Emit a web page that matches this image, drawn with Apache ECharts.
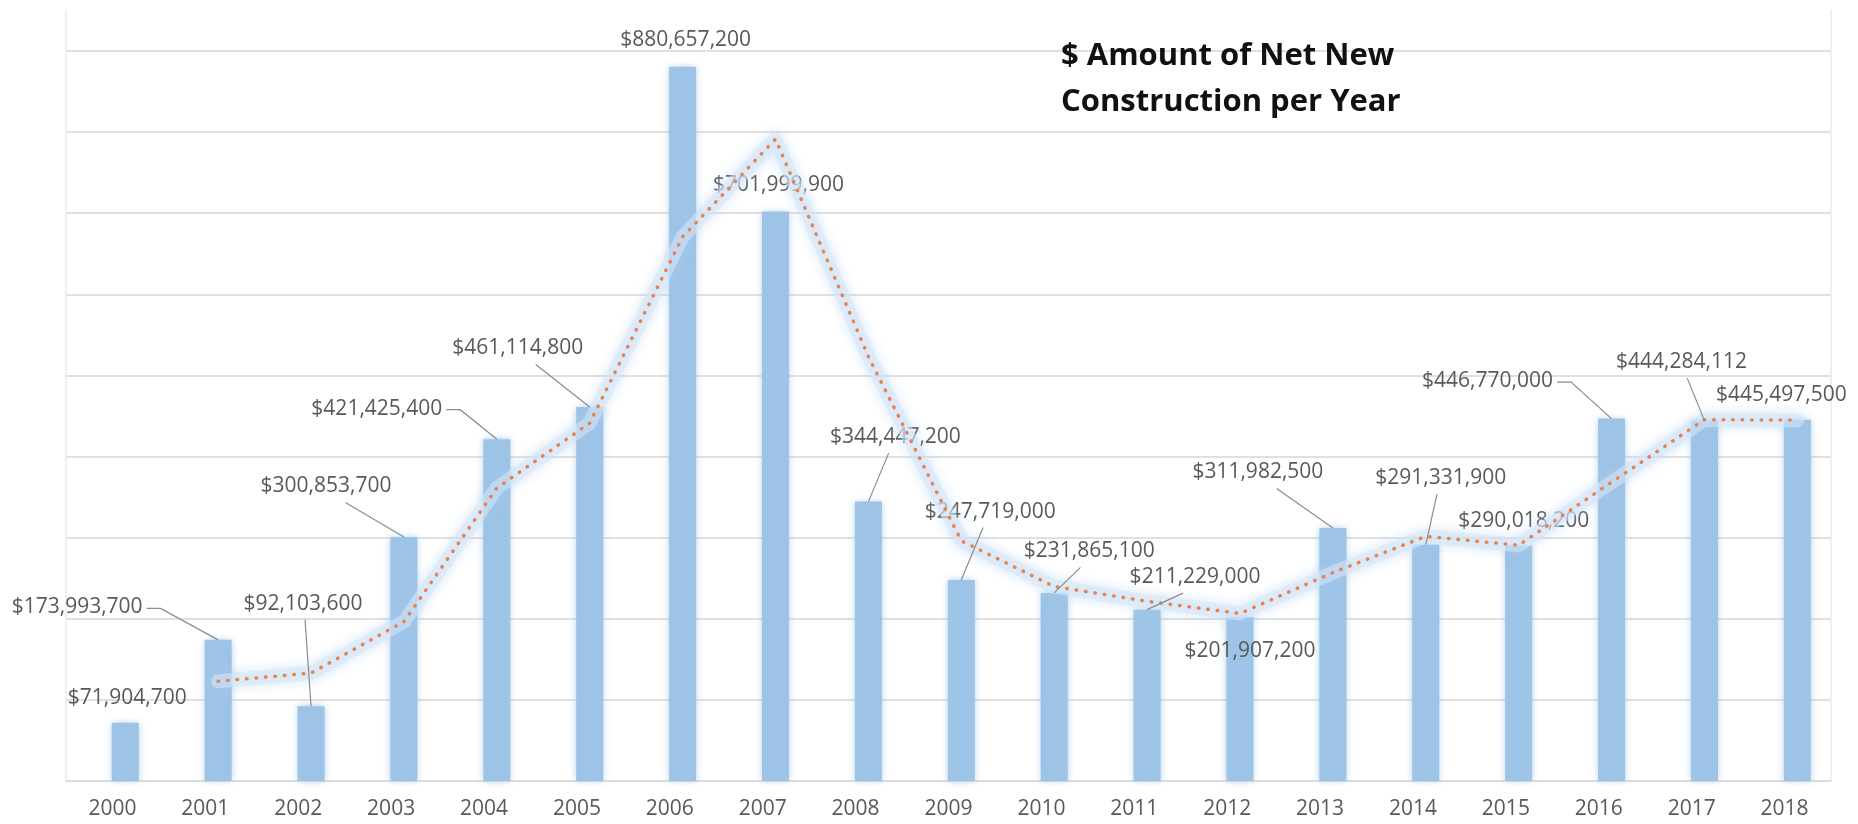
<!DOCTYPE html>
<html><head><meta charset="utf-8">
<script src="https://cdn.jsdelivr.net/npm/echarts@6/dist/echarts.min.js"></script>
<style>html,body{margin:0;padding:0;background:#fff}#c{width:1858px;height:824px}</style>
</head><body><div id="c"></div>
<script>
// ---- data ----
const years = ['2000','2001','2002','2003','2004','2005','2006','2007','2008','2009','2010','2011','2012','2013','2014','2015','2016','2017','2018'];
const netNewConstruction = [71904700,173993700,92103600,300853700,421425400,461114800,880657200,701999900,344447200,247719000,231865100,211229000,201907200,311982500,291331900,290018200,446770000,444284112,445497500];
// 2-period moving average trend line, as drawn (starts at 2001)
const movingAverageTrend = [null,122949200,133048650,196478650,361139550,441270100,670886000,791328550,523223550,296083100,239792050,221547050,206568100,256944850,301657200,290675050,368394100,445527056,444890806];
const yMin = 0, yMax = 900000000, yStep = 100000000;

// ---- label placement (styles: offsets from the default "top" spot, leader kind) ----
const labelShift = [[2,-9],[-141,-17],[-8,-87],[-78,-35],[-120,-15],[-72,-43],[3,-11],[3,-11],[27,-49],[29,-53],[35,-26],[48,-17],[10,49],[-75,-40],[15,-51],[5,-9],[-124,-22],[-23,-43],[-16,-9]];
const leaderKind = [null,'side','bottom','bottom','side','bottom',null,null,'bottom','bottom','bottom','bottom',null,'bottom','bottom',null,'side','bottom',null];

const FONT = 'Open Sans';
const LABEL_SIZE = 21, LABEL_DIST = 5;
function money(v){ return '$' + String(v).replace(/\B(?=(\d{3})+(?!\d))/g, ','); }
const measureCtx = document.createElement('canvas').getContext('2d');
function textWidth(t){ measureCtx.font = LABEL_SIZE + 'px "' + FONT + '"'; return measureCtx.measureText(t).width; }

function renderLeader(params, api){
  const i = params.dataIndex;
  const kind = leaderKind[i];
  if (!kind) return null;
  const v = api.value(1);
  const top = api.coord([api.value(0), v]);
  const w = textWidth(money(v));
  const cx = top[0] + labelShift[i][0];
  const cy = top[1] - LABEL_DIST - LABEL_SIZE / 2 + labelShift[i][1];
  let pts;
  if (kind === 'side') {
    const rx = cx + w / 2;
    pts = [[rx + 4, cy + 1], [rx + 18, cy + 1], [top[0], top[1]]];
  } else {
    const sx = cx + Math.max(-20, Math.min(20, (top[0] - cx) * 0.25));
    pts = [[sx, cy + 16], [top[0], top[1]]];
  }
  return { type: 'polyline', shape: { points: pts }, style: { stroke: '#8c8c8c', lineWidth: 1.2, fill: null } };
}

const chart = echarts.init(document.getElementById('c'), null, {renderer:'canvas'});
chart.setOption({
  animation: false,
  backgroundColor: '#ffffff',
  title: {
    text: '$ Amount of Net New\nConstruction per Year',
    left: 1061, top: 33, padding: 0,
    textStyle: { fontFamily: FONT, fontSize: 31, fontWeight: 'bold', color: '#111111', lineHeight: 46 }
  },
  grid: [
    { left: 66, right: 27, top: 51, bottom: 43 },          // axes, gridlines
    { left: 78.8, right: 14.2, top: 51, bottom: 43 },      // marks (offset like the source)
    { left: 66, right: 27, top: 10, bottom: 43 }           // plot-area side borders
  ],
  xAxis: [
    { type: 'category', gridIndex: 0, data: years,
      axisLine: { show: true, lineStyle: { color: '#d9d9d9', width: 1.5 } },
      axisTick: { show: false },
      axisLabel: { fontFamily: FONT, fontSize: 21, color: '#595959', margin: 18 } },
    { type: 'category', gridIndex: 1, data: years, show: false },
    { type: 'category', gridIndex: 2, data: years, show: false }
  ],
  yAxis: [
    { type: 'value', gridIndex: 0, min: yMin, max: yMax, interval: yStep,
      axisLabel: { show: false }, axisLine: { show: false }, axisTick: { show: false },
      splitLine: { show: true, lineStyle: { color: '#e0e0e0', width: 2 } } },
    { type: 'value', gridIndex: 1, min: yMin, max: yMax, interval: yStep, show: false },
    { type: 'value', gridIndex: 2, min: 0, max: 1, position: 'left',
      axisLabel: { show: false }, axisTick: { show: false }, splitLine: { show: false },
      axisLine: { show: true, lineStyle: { color: '#e6ebf2', width: 1.5 } } },
    { type: 'value', gridIndex: 2, min: 0, max: 1, position: 'right',
      axisLabel: { show: false }, axisTick: { show: false }, splitLine: { show: false },
      axisLine: { show: true, lineStyle: { color: '#e6ebf2', width: 1.5 } } }
  ],
  series: [
    { type: 'bar', xAxisIndex: 1, yAxisIndex: 1, data: netNewConstruction, barWidth: 27, z: 2,
      itemStyle: { color: '#9DC3E6', shadowBlur: 7, shadowColor: 'rgba(157,195,230,0.85)' },
      label: { show: true, position: 'top', distance: LABEL_DIST, formatter: p => money(p.value),
               fontFamily: FONT, fontSize: LABEL_SIZE, color: '#595959' },
      labelLine: { show: false },
      labelLayout: p => ({ dx: labelShift[p.dataIndex][0], dy: labelShift[p.dataIndex][1] })
    },
    { type: 'custom', xAxisIndex: 1, yAxisIndex: 1, z: 5, silent: true,
      data: netNewConstruction.map((v, i) => [i, v]),
      renderItem: renderLeader },
    { type: 'line', xAxisIndex: 1, yAxisIndex: 1, data: movingAverageTrend, symbol: 'none', z: 3,
      silent: true,
      lineStyle: { width: 14, color: 'rgba(215,232,248,0.55)', shadowBlur: 12, shadowColor: 'rgba(170,205,240,0.9)', cap: 'round', join: 'round' } },
    { type: 'line', xAxisIndex: 1, yAxisIndex: 1, data: movingAverageTrend, symbol: 'none', z: 4,
      lineStyle: { width: 3.5, color: '#E8834E', type: [0.5, 9], cap: 'round', join: 'round' } }
  ]
});
</script></body></html>
